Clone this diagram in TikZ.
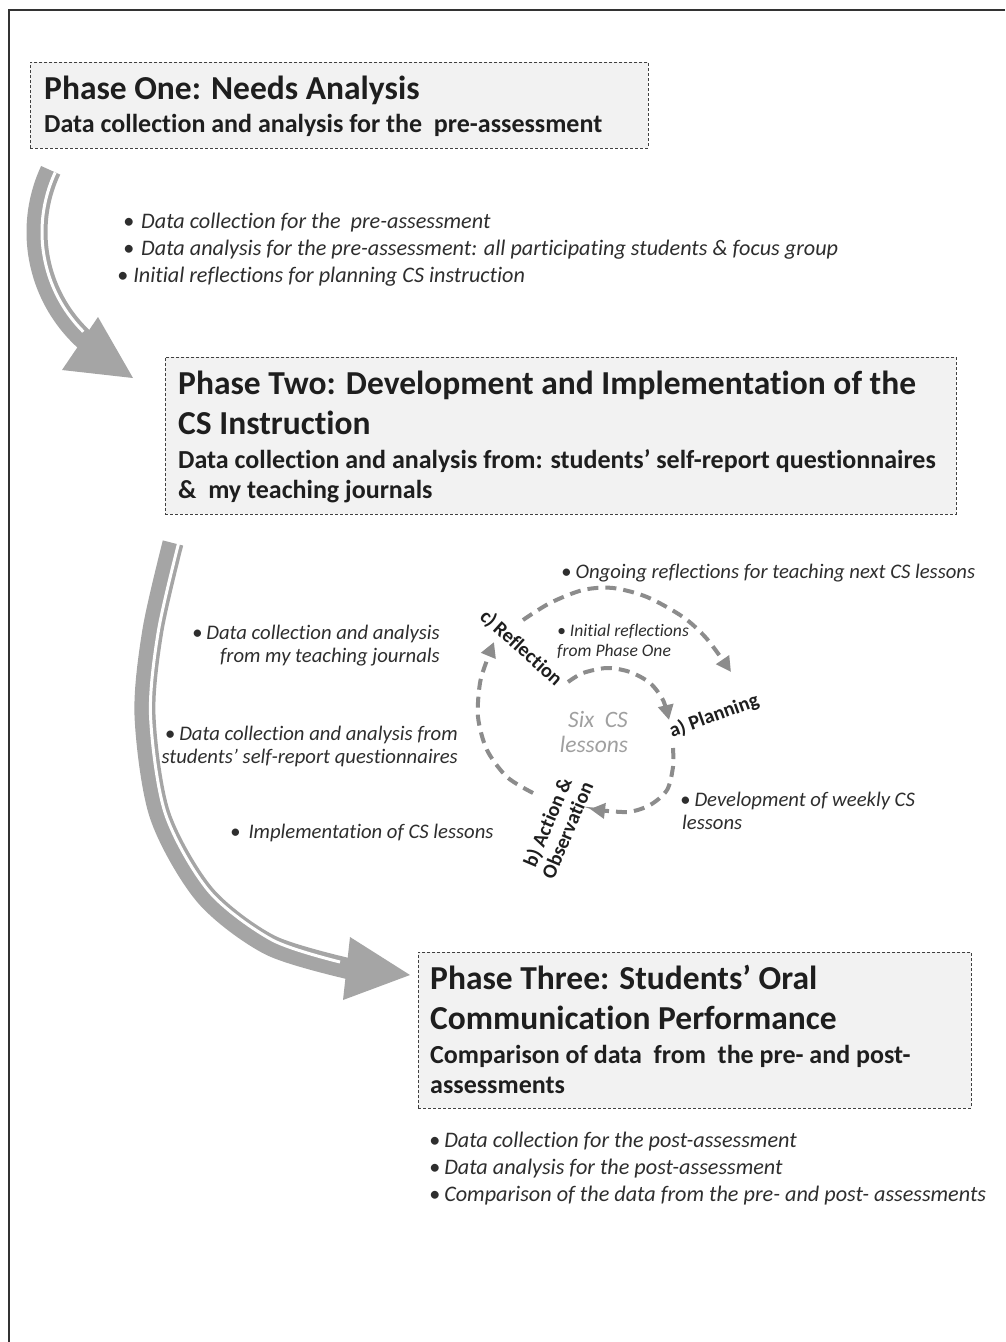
\documentclass[tikz,border=0pt]{standalone}
\usepackage{fontspec}
\setmainfont{Carlito}[Ligatures=NoCommon]
\usetikzlibrary{arrows.meta}
\definecolor{boxfill}{HTML}{F2F2F2}
\definecolor{boxline}{HTML}{404040}
\definecolor{bigarrow}{HTML}{A5A5A5}
\definecolor{cycgray}{HTML}{8C8C8C}
\definecolor{txt}{HTML}{1E1E1E}
\definecolor{itxt}{HTML}{2E2E2E}
\definecolor{sixgray}{HTML}{A0A0A0}
\begin{document}
\begin{tikzpicture}[x=1pt,y=-1pt,
  frame/.style={draw=black!80, line width=2pt},
  phasebox/.style={draw=boxline, fill=boxfill, line width=0.8pt, dash pattern=on 3pt off 2pt, inner sep=0pt, anchor=north west},
  ttl/.style={font=\fontsize{33.5}{38}\selectfont\bfseries, text=txt, anchor=base west, inner sep=0pt},
  sub/.style={font=\fontsize{26}{30}\selectfont\bfseries, text=txt, anchor=base west, inner sep=0pt},
  itm/.style={font=\fontsize{22.2}{26}\selectfont\itshape, text=itxt, anchor=base west, inner sep=0pt},
  note/.style={font=\fontsize{20.7}{24}\selectfont\itshape, text=itxt, anchor=base west, inner sep=0pt},
  noter/.style={note, anchor=base east},
  sml/.style={font=\fontsize{17.6}{21}\selectfont\itshape, text=itxt, anchor=base west, inner sep=0pt},
  lbl/.style={font=\fontsize{20.2}{21.5}\selectfont\bfseries, text=txt, inner sep=0pt},
  six/.style={font=\fontsize{23.5}{27}\selectfont\itshape, text=sixgray, anchor=base, inner sep=0pt},
  shaft/.style={draw=bigarrow, line width=21pt},
  stripe/.style={draw=white, line width=3pt},
  head/.style={fill=bigarrow},
  cyc/.style={draw=cycgray, line width=4pt, dash pattern=on 11pt off 7pt, -{Triangle[length=15pt,width=15pt]}}
]
\useasboundingbox (0,0) rectangle (1005,1342);
\fill[white] (0,0) rectangle (1005,1342);
\draw[frame] (1005,10) -- (8.5,10) -- (8.5,1342);

% phase boxes
\node[phasebox, minimum width=618pt, minimum height=86pt] (p1) at (30,62) {};
\node[phasebox, minimum width=791pt, minimum height=157pt] (p2) at (165,357) {};
\node[phasebox, minimum width=553pt, minimum height=156pt] (p3) at (418,952) {};

\node[ttl] (p1t) at (44,99) {Phase One: Needs Analysis};
\node[sub] (p1s) at (44,132) {Data collection and analysis for the\ \ pre-assessment};

\node[ttl] (p2t) at (178,394) {Phase Two: Development and Implementation of the};
\node[ttl] (p2u) at (178,434) {CS Instruction};
\node[sub] (p2s) at (178,468) {Data collection and analysis from: students’ self-report questionnaires};
\node[sub] (p2v) at (178,498) {\&\ \ my teaching journals};

\node[ttl] (p3t) at (430,989) {Phase Three: Students’ Oral};
\node[ttl] (p3u) at (430,1029) {Communication Performance};
\node[sub] (p3s) at (430,1063) {Comparison of data\ \ from\ \ the pre- and post-};
\node[sub] (p3v) at (430,1093) {assessments};

% phase one bullets
\node[itm] (b1) at (123,228) {•\hspace{7pt}Data collection for the\ \ pre-assessment};
\node[itm] (b2) at (123,255) {•\hspace{7pt}Data analysis for the pre-assessment: all participating students \& focus group};
\node[itm] (b3) at (117,282) {•\hspace{5pt}Initial reflections for planning CS instruction};

% phase three bullets
\node[itm] (c1) at (429,1147) {•\hspace{4pt}Data collection for the post-assessment};
\node[itm] (c2) at (429,1174) {•\hspace{4pt}Data analysis for the post-assessment};
\node[itm] (c3) at (429,1201) {•\hspace{4pt}Comparison of the data from the pre- and post- assessments};

% phase two side notes
\node[noter] (d1) at (440,639) {•\hspace{4pt}Data collection and analysis};
\node[noter] (d2) at (440,662) {from my teaching journals};
\node[noter] (d3) at (458,740) {•\hspace{4pt}Data collection and analysis from};
\node[noter] (d4) at (458,763) {students’ self-report questionnaires};
\node[note] (d5) at (230,838) {•\hspace{8pt}Implementation of CS lessons};
\node[note] (d6) at (680,806) {•\hspace{4pt}Development of weekly CS};
\node[note] (d7) at (682,829) {lessons};
\node[note] (d8) at (561,578) {•\hspace{4pt}Ongoing reflections for teaching next CS lessons};
\node[sml] (d9) at (557,636) {•\hspace{4pt}Initial reflections};
\node[sml] (d10) at (557,656) {from Phase One};

\node[six] (s1) at (598,727) {Six\ \ CS};
\node[six] (s2) at (594,752) {lessons};

% cycle labels
\node[lbl, rotate=-42] (lr) at (521,648) {c)\,Reflection};
\node[lbl, rotate=20] (lp) at (714,716) {a) Planning};
\node[lbl, rotate=67, align=center] (la) at (557,826) {b) Action \&\\Observation};

% cycle arrows
\draw[cyc] plot[smooth] coordinates {(523,620) (550,603) (583,590) (613,588) (647,597) (683,617) (707,639) (731,672)};
\draw[cyc] plot[smooth] coordinates {(568,682) (583,673) (607,668) (630,672) (650,683) (663,700) (669,720)};
\draw[cyc] plot[smooth] coordinates {(673,748) (673,767) (667,790) (650,805) (627,812) (590,809)};
\draw[cyc] plot[smooth] coordinates {(533,793) (507,777) (487,750) (478,717) (480,683) (487,660) (494,642)};

% big arrow 1
\draw[shaft] plot[domain=205:132, samples=60, variable=\t] ({183+146*cos(\t)},{232+146*sin(\t)});
\draw[stripe] plot[domain=205:135, samples=60, variable=\t] ({183+141*cos(\t)},{232+141*sin(\t)});
\fill[head] (62,370) -- (98,317) -- (133,378) -- cycle;

% big arrow 2
\draw[shaft] plot[smooth] coordinates {(173,543) (153,630) (145,715) (160,815) (205,895) (270,945) (350,969)};
\draw[stripe] plot[smooth] coordinates {(178.4,544) (158.4,630.8) (150.5,715) (165.3,813.4) (209,891.3) (272.3,940) (340,962)};
\fill[head] (350,937) -- (343,1000) -- (410,975) -- cycle;
\end{tikzpicture}
\end{document}
